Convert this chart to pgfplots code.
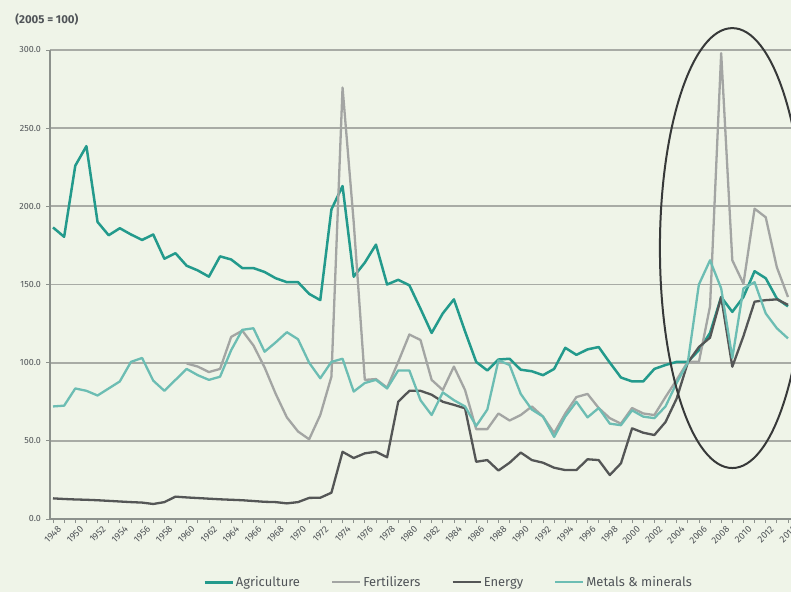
\documentclass[border=0pt]{standalone}
\usepackage{fontspec}
\setmainfont{Fira Sans}
\usepackage{pgfplots}
\usepackage{pgfplotstable}
\pgfplotsset{compat=1.18}
\definecolor{bg}{RGB}{239,244,232}
\definecolor{agri}{RGB}{35,154,140}
\definecolor{fert}{RGB}{163,165,163}
\definecolor{ener}{RGB}{84,86,86}
\definecolor{metal}{RGB}{108,189,179}
\definecolor{gridgray}{RGB}{168,171,165}
\definecolor{axisgray}{RGB}{140,145,140}
\definecolor{txt}{RGB}{80,84,88}
\definecolor{ellcol}{RGB}{55,57,57}

\pgfplotstableread{
year val
1948 186.5
1949 180.5
1950 226
1951 238.5
1952 190
1953 181.5
1954 186
1955 182
1956 178.5
1957 182
1958 166.5
1959 170
1960 162
1961 159
1962 155
1963 168
1964 166
1965 160.5
1966 160.5
1967 158
1968 154
1969 151.5
1970 151.5
1971 144
1972 140
1973 198
1974 213
1975 155
1976 164
1977 175.5
1978 150
1979 153
1980 149.5
1981 134.5
1982 119
1983 131.5
1984 140.5
1985 120
1986 100.5
1987 95
1988 102
1989 102.5
1990 95.5
1991 94.5
1992 92
1993 96
1994 109.5
1995 105
1996 108.5
1997 110
1998 100
1999 90.5
2000 88
2001 88
2002 96
2003 98.5
2004 100.5
2005 100.5
2006 108
2007 119
2008 142
2009 132.5
2010 142
2011 158.5
2012 154
2013 141
2014 136
}\agridata

\pgfplotstableread{
year val
1960 99.5
1961 97.5
1962 94
1963 96
1964 116.5
1965 120.5
1966 111
1967 97
1968 80
1969 65
1970 56
1971 51
1972 66.5
1973 91
1974 276
1975 190
1976 89
1977 89.5
1978 84
1979 100.5
1980 118
1981 114.5
1982 89
1983 82.5
1984 97.5
1985 82.5
1986 57.5
1987 57.5
1988 67.5
1989 63
1990 66.5
1991 72
1992 65.5
1993 55
1994 67.5
1995 78
1996 80
1997 71
1998 64.5
1999 61
2000 71
2001 67.5
2002 66.5
2003 78
2004 89
2005 100.5
2006 100.5
2007 136
2008 298
2009 165.5
2010 150.5
2011 198.5
2012 193
2013 161
2014 142
}\fertdata

\pgfplotstableread{
year val
1948 13.2
1949 12.8
1950 12.5
1951 12.3
1952 12
1953 11.6
1954 11.2
1955 10.8
1956 10.5
1957 9.6
1958 10.8
1959 14.3
1960 13.8
1961 13.4
1962 13
1963 12.6
1964 12.3
1965 12
1966 11.5
1967 11
1968 10.8
1969 10
1970 10.8
1971 13.5
1972 13.6
1973 16.8
1974 43
1975 39
1976 42
1977 43
1978 39.5
1979 75
1980 82
1981 82
1982 79.5
1983 75
1984 73
1985 70.8
1986 36.6
1987 37.7
1988 31
1989 36
1990 42.5
1991 37.7
1992 36
1993 32.8
1994 31.3
1995 31.3
1996 38.2
1997 37.7
1998 28.1
1999 35.6
2000 58
2001 55.2
2002 53.7
2003 62
2004 77
2005 100
2006 110
2007 116
2008 142
2009 97.4
2010 117
2011 139
2012 140
2013 140.5
2014 137
}\enerdata

\pgfplotstableread{
year val
1948 72
1949 72.5
1950 83.5
1951 82
1952 79
1953 83.5
1954 88
1955 100.5
1956 103
1957 88.5
1958 82
1959 89
1960 96
1961 92
1962 89
1963 91
1964 108
1965 121
1966 122
1967 107
1968 113
1969 119.5
1970 115
1971 100
1972 90
1973 100.5
1974 102.5
1975 81.5
1976 87
1977 89
1978 83.5
1979 95
1980 95
1981 76
1982 66.5
1983 81
1984 76
1985 72
1986 59.5
1987 70
1988 101.5
1989 98.5
1990 80
1991 70
1992 65.5
1993 52.5
1994 65.5
1995 75
1996 65
1997 71
1998 61
1999 60
2000 69.5
2001 65.5
2002 64.5
2003 72
2004 87
2005 100
2006 150
2007 165.5
2008 147.5
2009 103
2010 147.5
2011 151.5
2012 131.5
2013 122
2014 115.5
}\metaldata

\begin{document}
\begin{tikzpicture}
\fill[bg] (-50bp,-73bp) rectangle (741bp,519bp);
\useasboundingbox (-50bp,-73bp) rectangle (741bp,519bp);
\begin{axis}[
  at={(0,0)}, anchor=south west,
  scale only axis, width=741bp, height=469bp,
  xmin=1947.73, xmax=2014.27, ymin=0, ymax=300,
  clip=false,
  axis x line=bottom, axis y line=left,
  axis line style={-},
  x axis line style={draw=axisgray, line width=1.6bp},
  y axis line style={draw=axisgray, line width=2.6bp},
  ymajorgrids, grid style={draw=gridgray, line width=1.7bp},
  ytick={0,50,...,300},
  xtick={1948,1950,...,2014},
  minor xtick={1949,1951,...,2013},
  tick align=outside,
  major tick length=4bp, minor tick length=4bp,
  every tick/.style={draw=axisgray, line width=0.8bp},
  /pgf/number format/assume math mode=true,
  y tick label style={font=\fontsize{9}{10}\selectfont, text=txt, inner sep=1pt, xshift=-4bp,
     /pgf/number format/.cd, fixed, fixed zerofill, precision=1},
  x tick label style={font=\fontsize{9.5}{10}\selectfont, text=txt, rotate=45,
     anchor=north east, inner sep=0.5pt, yshift=-4bp, xshift=2bp,
     /pgf/number format/1000 sep={}},
  legend style={at={(0.538,-0.135)}, anchor=center, draw=none, fill=none,
     legend columns=4, font=\fontsize{13}{14}\selectfont, text=txt,
     /tikz/every even column/.append style={column sep=29bp}},
  legend image code/.code={\draw[#1] (0bp,0bp) -- (28bp,0bp);},
]
\addplot[agri, line width=2.5bp, line join=round] table[x=year,y=val] {\agridata};
\addlegendentry{Agriculture}
\addplot[fert, line width=2.3bp, line join=round] table[x=year,y=val] {\fertdata};
\addlegendentry{Fertilizers}
\addplot[ener, line width=2.3bp, line join=round] table[x=year,y=val] {\enerdata};
\addlegendentry{Energy}
\addplot[metal, line width=2.3bp, line join=round] table[x=year,y=val] {\metaldata};
\addlegendentry{Metals \& minerals}
\draw[ellcol, line width=2bp] (axis cs:2009.0,173.3) ellipse [x radius=6.5, y radius=140.7];
\node[anchor=west, inner sep=0pt, font=\bfseries\fontsize{11.5}{12}\selectfont, text=txt] at (rel axis cs:-0.047,1.064) {(2005 = 100)};
\end{axis}
\end{tikzpicture}
\end{document}
